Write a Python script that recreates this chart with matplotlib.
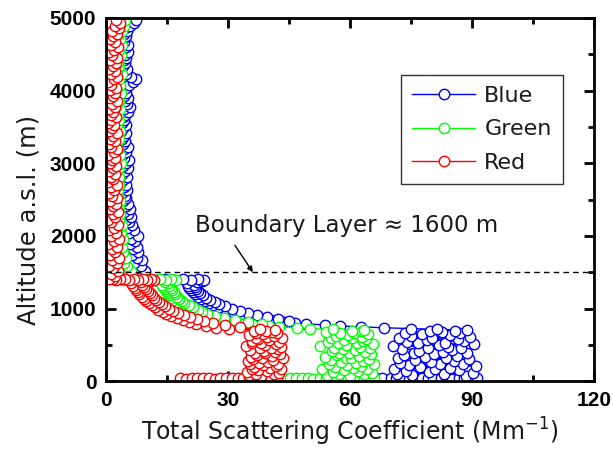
import matplotlib
matplotlib.use('Agg')
import matplotlib.pyplot as plt
from matplotlib.ticker import MultipleLocator

# Altitude (m a.s.l.) shared by all three channels, in flight order:
# ground run, mixed layer climb, transition, level leg at ~1400 m, free troposphere
altitude = [
    40, 36, 44, 41, 38, 43, 35, 42, 39, 45, 37, 41, 44, 36, 40, 43, 38, 42,
    70, 82, 93, 105, 116, 128, 139, 151, 162, 174,
    185, 197, 208, 220, 231, 243, 254, 266, 277, 289,
    300, 312, 323, 335, 346, 358, 369, 381, 392, 404,
    415, 427, 438, 450, 461, 473, 484, 496, 507, 519,
    530, 542, 553, 565, 576, 588, 599, 611, 622, 634,
    645, 657, 668, 680, 688, 695,
    700, 712, 722, 735, 748, 760, 775, 788, 800, 815, 828, 842,
    856, 870, 884, 898, 912, 926, 940, 955, 970, 985, 1000, 1015,
    1030, 1045, 1060, 1075, 1090, 1105, 1120, 1135, 1150, 1165, 1180, 1195,
    1210, 1225, 1240, 1255, 1270, 1285, 1300, 1315, 1330, 1345, 1360, 1375,
    1390, 1400, 1395, 1405, 1398, 1402, 1396, 1404, 1400, 1398, 1402, 1400,
    1445, 1480, 1515, 1555, 1590, 1630, 1665, 1700, 1740, 1775,
    1815, 1850, 1890, 1925, 1960, 2000, 2035, 2075, 2110, 2150,
    2185, 2220, 2260, 2295, 2335, 2370, 2410, 2445, 2480, 2520,
    2555, 2595, 2630, 2670, 2705, 2740, 2780, 2815, 2855, 2890,
    2930, 2965, 3000, 3040, 3075, 3115, 3150, 3190, 3225, 3260,
    3300, 3335, 3375, 3410, 3450, 3485, 3520, 3560, 3595, 3635,
    3670, 3710, 3745, 3780, 3820, 3855, 3895, 3930, 3970, 4005,
    4040, 4080, 4115, 4155, 4190, 4230, 4265, 4300, 4340, 4375,
    4415, 4450, 4490, 4525, 4560, 4600, 4635, 4675, 4710, 4750,
    4785, 4820, 4860, 4895, 4935, 4970,
]

# Total scattering coefficient (Mm-1) per wavelength
blue = [
    65.2, 66.8, 67.9, 70.1, 71.4, 73.0, 74.6, 75.9, 77.8, 79.1, 80.5, 82.4, 83.6, 85.2, 86.9, 88.1, 89.7, 91.3,
    88.4, 75.2, 83.1, 71.6, 90.2, 79.4, 73.8, 86.7, 81.0, 70.9,
    84.5, 77.3, 91.1, 74.6, 82.2, 87.9, 72.4, 79.8, 85.6, 76.1,
    89.3, 71.8, 83.7, 78.5, 86.2, 73.3, 80.6, 88.8, 75.7, 82.9,
    77.0, 85.1, 72.9, 87.4, 79.1, 84.0, 70.5, 81.8, 90.6, 76.8,
    83.4, 74.1, 88.0, 78.9, 86.5, 72.1, 80.2, 89.6, 75.0, 84.7,
    77.6, 87.1, 73.5, 82.6, 79.7, 85.9,
    88.7, 81.4, 74.9, 68.3, 62.8, 57.6, 53.9, 49.2, 46.5, 43.8, 45.1, 40.6,
    42.3, 37.9, 39.7, 35.4, 37.2, 33.1, 34.8, 31.2, 32.9, 29.4, 31.0, 27.8,
    29.3, 26.4, 27.9, 25.2, 26.7, 24.3, 25.5, 23.4, 24.6, 22.7, 23.8, 21.9,
    23.1, 21.3, 22.6, 20.8, 22.2, 20.4, 21.9, 20.1, 21.6, 20.0, 22.4, 23.7,
    24.1, 22.5, 20.8, 18.9, 16.7, 14.6, 12.3, 10.2, 8.1, 6.0, 4.2, 2.5,
    9.2, 8.1, 9.6, 7.4, 8.6, 6.9, 8.8, 7.7, 6.3, 7.9,
    6.6, 7.5, 5.9, 7.0, 6.2, 7.8, 5.6, 6.8, 5.2, 6.4,
    5.7, 4.8, 6.1, 5.3, 4.5, 5.8, 4.9, 5.5, 4.2, 5.0,
    4.6, 3.9, 5.2, 4.3, 4.8, 3.7, 4.4, 5.1, 4.0, 4.7,
    5.3, 4.2, 4.9, 5.6, 4.5, 3.9, 5.0, 4.4, 5.4, 4.1,
    4.6, 3.8, 4.3, 5.0, 3.6, 4.2, 4.8, 3.9, 4.5, 4.1,
    4.7, 5.3, 4.4, 6.0, 5.1, 4.6, 5.5, 4.3, 4.9, 4.0,
    4.8, 5.7, 6.6, 7.3, 6.1, 5.0, 4.5, 5.2, 4.1, 4.7,
    4.3, 5.0, 4.6, 5.4, 4.0, 4.9, 5.3, 4.4, 4.1, 4.8,
    4.5, 5.1, 4.7, 5.9, 6.8, 7.4,
]
green = [
    42.3, 43.9, 45.2, 46.8, 48.1, 49.7, 51.0, 52.6, 54.0, 55.3, 56.9, 58.2, 59.6, 61.0, 62.3, 63.5, 64.6, 65.8,
    60.1, 54.3, 63.5, 57.2, 65.4, 55.8, 61.9, 58.6, 64.2, 53.1,
    60.8, 56.4, 62.7, 59.3, 65.9, 54.9, 61.4, 57.8, 63.1, 55.2,
    64.6, 58.9, 60.3, 53.8, 62.1, 56.9, 65.1, 59.7, 57.4, 63.8,
    55.6, 61.2, 58.2, 64.9, 56.1, 62.5, 52.7, 59.0, 65.6, 57.0,
    61.7, 54.6, 63.3, 58.4, 64.0, 55.4, 60.6, 62.9, 56.6, 59.5,
    64.3, 57.6, 61.0, 54.1, 63.0, 60.4,
    63.5, 55.8, 50.2, 46.9, 42.5, 40.1, 36.2, 38.4, 32.7, 34.9, 29.6, 31.8,
    27.2, 29.0, 25.1, 26.7, 23.4, 24.8, 21.9, 23.6, 20.7, 22.5, 19.6, 21.4,
    18.7, 20.3, 17.9, 19.2, 17.1, 18.6, 16.5, 17.9, 15.9, 17.4, 15.4, 16.9,
    15.0, 16.6, 14.7, 16.2, 14.4, 15.9, 14.1, 15.6, 13.8, 15.3, 14.6, 16.8,
    17.2, 16.0, 14.7, 13.3, 11.8, 10.2, 8.7, 7.1, 5.6, 4.1, 2.9, 1.8,
    5.8, 4.6, 6.1, 3.9, 5.2, 4.4, 3.5, 5.0, 3.1, 4.2,
    2.9, 3.8, 2.4, 3.3, 4.1, 2.2, 3.6, 2.7, 3.0, 3.9,
    2.5, 3.2, 2.0, 3.5, 2.8, 1.9, 3.1, 2.6, 3.4, 2.1,
    2.9, 1.8, 3.0, 2.4, 3.3, 1.7, 2.6, 3.1, 2.0, 2.8,
    3.2, 2.3, 3.6, 1.9, 2.7, 3.4, 2.1, 3.0, 2.5, 1.8,
    2.9, 3.3, 2.0, 2.6, 3.5, 2.2, 2.8, 1.9, 3.1, 2.4,
    3.0, 2.1, 3.4, 2.5, 1.8, 3.2, 2.7, 2.2, 3.6, 2.3,
    2.8, 3.5, 2.0, 3.1, 2.4, 3.9, 2.6, 1.9, 3.3, 2.9,
    2.2, 3.0, 3.7, 2.5, 3.2, 2.0, 3.8, 2.7, 3.4, 2.4,
    3.1, 3.9, 2.8, 4.4, 3.6, 4.6,
]
red = [
    18.2, 19.6, 21.1, 22.3, 23.9, 25.2, 26.8, 28.0, 29.5, 30.9, 32.4, 33.6, 35.1, 36.5, 37.9, 39.2, 40.6, 42.0,
    38.2, 35.1, 41.4, 36.8, 42.6, 34.7, 39.5, 37.3, 43.1, 35.9,
    40.2, 36.4, 41.8, 38.7, 35.3, 42.2, 37.6, 39.9, 34.9, 41.1,
    36.2, 43.4, 38.4, 35.6, 40.8, 37.1, 42.9, 39.2, 36.6, 41.6,
    38.9, 35.4, 42.3, 37.9, 40.5, 43.0, 34.5, 39.0, 41.9, 36.0,
    38.0, 42.5, 35.8, 40.0, 37.4, 43.2, 36.9, 39.6, 41.3, 35.2,
    38.6, 42.0, 37.0, 40.9, 36.3, 39.4,
    41.5, 30.2, 37.8, 27.1, 33.0, 24.6, 29.3, 22.1, 26.4, 20.5, 24.0, 18.9,
    22.3, 17.4, 20.6, 15.9, 19.2, 14.8, 17.7, 13.9, 16.5, 12.8, 15.4, 12.1,
    14.6, 11.3, 13.8, 10.6, 13.0, 9.9, 12.4, 9.3, 11.8, 8.8, 11.2, 8.2,
    10.7, 7.8, 10.3, 7.4, 9.9, 7.0, 9.4, 6.6, 8.9, 6.2, 8.5, 10.8,
    11.9, 11.0, 10.1, 9.0, 7.9, 6.8, 5.7, 4.6, 3.5, 2.5, 1.6, 0.8,
    2.1, 1.2, 3.0, 1.8, 0.7, 2.6, 1.5, 3.2, 0.9, 2.3,
    1.4, 2.8, 0.6, 2.0, 3.1, 1.1, 2.5, 0.8, 1.9, 2.9,
    1.3, 0.5, 2.2, 1.6, 3.0, 0.9, 1.7, 2.4, 1.0, 2.7,
    1.5, 0.7, 2.0, 1.2, 2.6, 0.6, 1.8, 1.1, 2.3, 0.8,
    1.6, 2.5, 0.9, 1.4, 2.1, 0.6, 1.9, 2.8, 1.2, 0.7,
    2.2, 1.0, 1.7, 2.6, 0.8, 1.5, 2.0, 0.5, 1.3, 2.4,
    1.1, 1.8, 0.7, 2.3, 1.4, 2.7, 0.9, 1.6, 2.1, 1.0,
    2.5, 1.3, 0.6, 1.9, 2.8, 1.2, 2.2, 0.8, 1.7, 2.4,
    1.0, 2.6, 1.5, 0.7, 2.0, 3.0, 1.3, 2.3, 0.9, 1.8,
    2.7, 1.4, 3.2, 2.1, 3.5, 2.5,
]

boundary_layer = 1500
label_font = 'DejaVu Sans'
text_colour = '#1a1a1a'

fig = plt.figure(figsize=(6.13, 4.5), dpi=100)
ax = fig.add_axes([0.173, 0.153, 0.796, 0.807])

for values, colour, name in [(blue, '#0000ff', 'Blue'),
                             (green, '#00ff00', 'Green'),
                             (red, '#ff0000', 'Red')]:
    ax.plot(values, altitude, '-o', color=colour, lw=1, ms=7.5, mew=1,
            mfc='white', mec=colour, label=name)

# boundary layer top with its label
ax.axhline(boundary_layer, color='black', lw=1, ls=(0, (4, 3)))
ax.annotate('', xy=(36.1, boundary_layer), xytext=(31.7, 1870),
            arrowprops=dict(arrowstyle='-|>', color='black', lw=1,
                            mutation_scale=8, shrinkA=0, shrinkB=0))
ax.text(21.9, 2052, 'Boundary Layer \u2248 1600 m', fontsize=16.5,
        family=label_font, va='baseline', ha='left', color=text_colour)

ax.set_xlim(0, 120)
ax.set_ylim(0, 5000)
ax.xaxis.set_major_locator(MultipleLocator(30))
ax.xaxis.set_minor_locator(MultipleLocator(15))
ax.yaxis.set_major_locator(MultipleLocator(1000))
ax.yaxis.set_minor_locator(MultipleLocator(500))
ax.tick_params(which='both', direction='in', top=True, right=True, width=2, pad=7)
ax.tick_params(which='major', length=7)
ax.tick_params(which='minor', length=4)
for lab in ax.get_xticklabels() + ax.get_yticklabels():
    lab.set_family('Liberation Sans')
    lab.set_fontweight('bold')
    lab.set_fontsize(15)
for sp in ax.spines.values():
    sp.set_linewidth(2)

ax.set_xlabel('Total Scattering Coefficient (Mm$^{-1}$)', fontsize=17,
              family=label_font, color=text_colour, va='baseline')
ax.xaxis.set_label_coords(0.5, -0.1625)
ax.set_ylabel('Altitude a.s.l. (m)', fontsize=17.5, family=label_font,
              color=text_colour)
ax.yaxis.set_label_coords(-0.135, 0.443)

leg = ax.legend(loc='upper right', bbox_to_anchor=(0.936, 0.843),
                borderaxespad=0, fancybox=False, handlelength=2.85,
                handletextpad=0.4, labelspacing=0.6, borderpad=0.5,
                prop={'family': label_font, 'size': 16})
leg.get_frame().set_edgecolor('black')
leg.get_frame().set_linewidth(1)
for t in leg.get_texts():
    t.set_color(text_colour)

fig.savefig('out.png', dpi=100)
